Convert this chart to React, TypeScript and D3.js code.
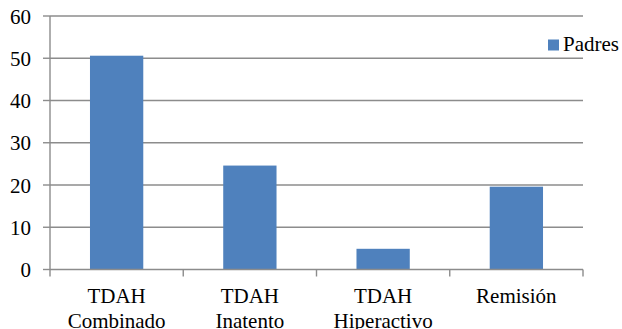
import React from "react";
import * as d3 from "d3";

const categories: string[][] = [
  ["TDAH", "Combinado"],
  ["TDAH", "Inatento"],
  ["TDAH", "Hiperactivo"],
  ["Remisión"],
];
const padres: number[] = [50.6, 24.6, 4.9, 19.6];
const yTicks: number[] = [0, 10, 20, 30, 40, 50, 60];
const seriesName = "Padres";

const W = 622;
const H = 329;
const BAR = "#4f81bd";
const GRID = "#8c8c8c";
const FONT = "Liberation Serif";

export default function App() {
  const keys = categories.map((c) => c.join(" "));
  const x = d3.scaleBand<string>().domain(keys).range([50, 583]).padding(0);
  const y = d3.scaleLinear().domain([0, 60]).range([269.5, 16]);
  const barW = x.bandwidth() * 0.4;
  const cx = (i: number) => (x(keys[i]) ?? 0) + x.bandwidth() / 2;

  return (
    <svg
      width={W}
      height={H}
      fontFamily={FONT}
      fontSize={21}
      style={{ position: "absolute", left: 0, top: 0, fontFamily: FONT }}
    >
      {/* horizontal gridlines and y tick labels */}
      {yTicks.map((t) => (
        <g key={t}>
          {t > 0 && (
            <line x1={50} x2={583} y1={y(t)} y2={y(t)} stroke={GRID} strokeWidth={1.4} />
          )}
          <line x1={43} x2={50} y1={y(t)} y2={y(t)} stroke={GRID} strokeWidth={1.4} />
          <text
            x={31}
            y={y(t) + 7.5}
            textAnchor="end"
            fontFamily={FONT}
            style={{ fontFamily: FONT, fontSize: "21px" }}
          >
            {t}
          </text>
        </g>
      ))}

      {/* bars */}
      {keys.map((k, i) => (
        <rect
          key={k}
          x={cx(i) - barW / 2}
          y={y(padres[i])}
          width={barW}
          height={y(0) - y(padres[i])}
          fill={BAR}
        />
      ))}

      {/* axes */}
      <line x1={50} x2={50} y1={y(60)} y2={y(0)} stroke={GRID} strokeWidth={1.4} />
      <line x1={50} x2={583} y1={y(0)} y2={y(0)} stroke={GRID} strokeWidth={1.4} />
      {[...keys.map((k) => x(k) ?? 0), 583].map((tx, i) => (
        <line key={i} x1={tx} x2={tx} y1={y(0)} y2={y(0) + 7} stroke={GRID} strokeWidth={1.4} />
      ))}

      {/* category labels, one text per line */}
      {categories.map((lines, i) =>
        lines.map((l, j) => (
          <text
            key={`${i}-${j}`}
            x={cx(i)}
            y={303.3 + j * 25}
            textAnchor="middle"
            fontFamily={FONT}
            style={{ fontFamily: FONT, fontSize: "21px" }}
          >
            {l}
          </text>
        ))
      )}

      {/* legend */}
      <rect x={548} y={39.5} width={11} height={11} fill={BAR} />
      <text x={563} y={51} fontFamily={FONT} style={{ fontFamily: FONT, fontSize: "21px" }}>
        {seriesName}
      </text>
    </svg>
  );
}
